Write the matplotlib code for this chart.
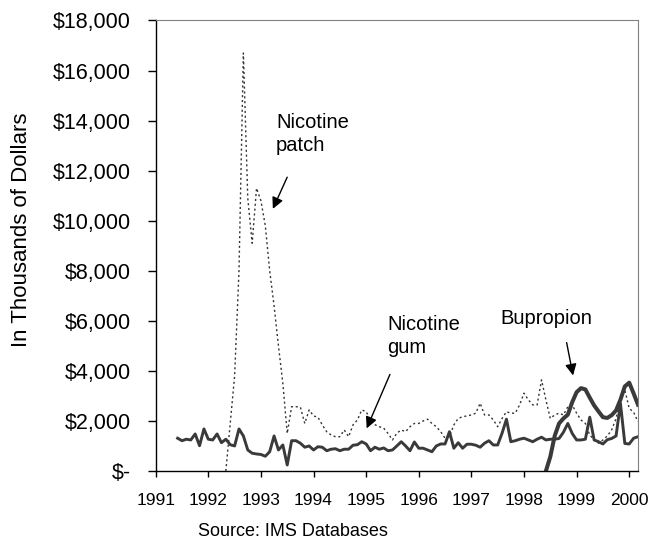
import numpy as np
import matplotlib.pyplot as plt
from matplotlib.ticker import FuncFormatter

plt.rcParams['font.family'] = ['Liberation Sans', 'DejaVu Sans']

# monthly sales, in thousands of dollars; first month counted from Jan 1991
gum_start = 5
patch_start = 16
bupropion_start = 89

gum = [1310, 1210, 1270, 1240, 1480, 1010, 1680, 1270, 1240, 1480,
       1130, 1270, 1050, 1000, 1680, 1400, 840, 710, 680, 660,
       590, 770, 1400, 840, 1040, 240, 1210, 1210, 1110, 950,
       1000, 840, 970, 950, 810, 870, 890, 810, 870, 870,
       1030, 1050, 1170, 1080, 810, 950, 870, 920, 810, 840,
       1000, 1170, 1000, 810, 1160, 910, 910, 840, 770, 1000,
       1080, 1080, 1570, 910, 1130, 910, 1070, 1070, 1030, 950,
       1110, 1210, 1040, 1040, 1510, 2070, 1170, 1210, 1270, 1310,
       1240, 1170, 1270, 1350, 1240, 1270, 1270, 1300, 1550, 1900,
       1500, 1240, 1240, 1270, 2150, 1240, 1170, 1080, 1250, 1300,
       1400, 2700, 1100, 1080, 1310, 1370]

patch = [0, 1900, 3800, 8000, 16700, 10900, 9100, 11300, 10800, 9800,
         8000, 6600, 5000, 3500, 1500, 2570, 2570, 2550, 1900, 2440,
         2200, 2150, 1840, 1570, 1440, 1370, 1370, 1640, 1370, 1840,
         2040, 2440, 2370, 2040, 1850, 1770, 1710, 1500, 1240, 1510,
         1640, 1570, 1770, 1900, 1900, 2000, 2070, 1900, 1770, 1570,
         1310, 1370, 1840, 2100, 2170, 2200, 2240, 2310, 2710, 2240,
         2240, 2040, 1770, 2100, 2370, 2310, 2310, 2640, 3110, 2840,
         2640, 2640, 3640, 2840, 2100, 2240, 2310, 2240, 2570, 2640,
         2310, 2040, 1900, 1440, 1240, 1110, 1240, 1400, 1640, 2100,
         2900, 3240, 2500, 2350, 1970]

bupropion = [0, 570, 1400, 1900, 2100, 2250, 2750, 3150, 3310, 3260,
             2930, 2620, 2380, 2150, 2120, 2230, 2420, 2850, 3380, 3530,
             3100, 2650]

years = list(range(1991, 2001))


def months(start, values):
    return 1991 + (start + np.arange(len(values))) / 12


def dollars(v, pos):
    if v == 0:
        return '$-'
    return '${:,.0f}'.format(v)


fig = plt.figure(figsize=(6.52, 5.42), dpi=100)
ax = fig.add_axes([0.2388, 0.131, 0.7397, 0.8312])

ax.plot(months(patch_start, patch), patch, color='#333333', lw=1.0,
        linestyle=(0, (1.5, 2)))
ax.plot(months(gum_start, gum), gum, color='#3a3a3a', lw=2.1)
ax.plot(months(bupropion_start, bupropion), bupropion, color='#3a3a3a', lw=2.9)

ax.set_xlim(1991, 1991 + 110 / 12)
ax.set_ylim(0, 18000)
ax.set_xticks(years)
ax.set_yticks(range(0, 18001, 2000))
ax.yaxis.set_major_formatter(FuncFormatter(dollars))
ax.tick_params(axis='y', labelsize=15.5, length=6, width=1, pad=12)
ax.tick_params(axis='x', labelsize=12.5, length=4.5, width=1, pad=11)

for s in ['top', 'right']:
    ax.spines[s].set_color('#808080')
    ax.spines[s].set_linewidth(0.8)
for s in ['left', 'bottom']:
    ax.spines[s].set_linewidth(1.0)

# labels and arrows
ax.text(1993.287, 14320, 'Nicotine\npatch', fontsize=14.5, va='top', ha='left',
        linespacing=1.3)
ax.annotate('', xy=(1993.205, 10372), xytext=(1993.521, 11840),
            arrowprops=dict(arrowstyle='-|>', color='black', lw=1, mutation_scale=17))

ax.text(1995.397, 6240, 'Nicotine\ngum', fontsize=14.5, va='top', ha='left',
        linespacing=1.3)
ax.annotate('', xy=(1994.989, 1600), xytext=(1995.473, 3960),
            arrowprops=dict(arrowstyle='-|>', color='black', lw=1, mutation_scale=17))

ax.text(1997.559, 6480, 'Bupropion', fontsize=14.5, va='top', ha='left')
ax.annotate('', xy=(1998.943, 3708), xytext=(1998.800, 5240),
            arrowprops=dict(arrowstyle='-|>', color='black', lw=1, mutation_scale=17))

fig.text(22 / 652, 1 - 230 / 542, 'In Thousands of Dollars', fontsize=16,
         rotation=90, ha='center', va='center')
fig.text(198 / 652, 1 - 523 / 542, 'Source: IMS Databases', fontsize=13,
         ha='left', va='top')

plt.savefig('out.png', dpi=100)
